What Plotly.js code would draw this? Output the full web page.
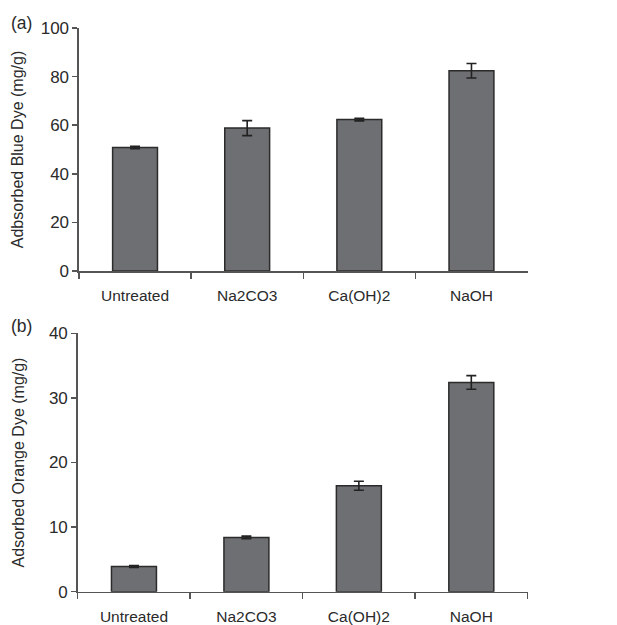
<!DOCTYPE html>
<html>
<head>
<meta charset="utf-8">
<script src="https://cdn.plot.ly/plotly-3.0.1.min.js"></script>
<style>html,body{margin:0;padding:0;background:#fff}#chart{width:617px;height:625px}</style>
</head>
<body>
<div id="chart"></div>
<script>
const categories = ["Untreated", "Na2CO3", "Ca(OH)2", "NaOH"];
const blueValues = [50.8, 58.8, 62.3, 82.4];
const blueErrors = [0.5, 3.1, 0.5, 3.0];
const orangeValues = [3.9, 8.4, 16.4, 32.4];
const orangeErrors = [0.15, 0.2, 0.7, 1.05];
const blueTicks = [0, 20, 40, 60, 80, 100];
const orangeTicks = [0, 10, 20, 30, 40];

const barStyle = {color: "#6e6f72", line: {color: "#2b2b2b", width: 1.5}};
const errStyle = {type: "data", visible: true, color: "#222", thickness: 1.6, width: 5};

const traces = [
  {type: "bar", x: categories, y: blueValues, xaxis: "x", yaxis: "y", width: 0.4,
   marker: barStyle, error_y: Object.assign({array: blueErrors}, errStyle), hoverinfo: "none"},
  {type: "bar", x: categories, y: orangeValues, xaxis: "x2", yaxis: "y2", width: 0.4,
   marker: barStyle, error_y: Object.assign({array: orangeErrors}, errStyle), hoverinfo: "none"}
];

const font = {family: "Liberation Sans, Arial, sans-serif", color: "#2a2a2a"};
const xCommon = {
  type: "category", showline: true, linecolor: "#555", linewidth: 1.5,
  ticks: "outside", tickson: "boundaries", ticklen: 6, tickwidth: 1.5, tickcolor: "#555",
  tickfont: Object.assign({size: 15.5}, font), showgrid: false, zeroline: false,
  range: [-0.5, 3.5], fixedrange: true, automargin: false
};
const yCommon = {
  showline: true, linecolor: "#555", linewidth: 1.5, ticks: "outside", ticklen: 5,
  tickwidth: 1.5, tickcolor: "#555", tickfont: Object.assign({size: 17}, font),
  showgrid: false, zeroline: false, automargin: false, fixedrange: true
};

const layout = {
  width: 617, height: 625,
  margin: {l: 0, r: 0, t: 0, b: 0},
  paper_bgcolor: "#fff", plot_bgcolor: "#fff",
  showlegend: false, bargap: 0.6,
  font: font,
  xaxis: Object.assign({}, xCommon, {domain: [0.128, 0.855], anchor: "y", ticklabelstandoff: 10}),
  yaxis: Object.assign({}, yCommon, {domain: [0.5664, 0.9552], anchor: "x", range: [0, 100],
    tickvals: blueTicks,
    title: {text: "Adbsorbed Blue Dye (mg/g)", font: Object.assign({size: 16}, font), standoff: 13}}),
  xaxis2: Object.assign({}, xCommon, {domain: [0.126, 0.855], anchor: "y2", ticklabelstandoff: 10}),
  yaxis2: Object.assign({}, yCommon, {domain: [0.0533, 0.4667], anchor: "x2", range: [0, 40],
    tickvals: orangeTicks,
    title: {text: "Adsorbed Orange Dye (mg/g)", font: Object.assign({size: 16}, font), standoff: 20}}),
  annotations: [
    {text: "(a)", xref: "paper", yref: "paper", x: 0.014, y: 1 - 23/625, xanchor: "left", yanchor: "middle",
     showarrow: false, font: Object.assign({size: 17.5}, font)},
    {text: "(b)", xref: "paper", yref: "paper", x: 0.014, y: 1 - 326/625, xanchor: "left", yanchor: "middle",
     showarrow: false, font: Object.assign({size: 17.5}, font)}
  ]
};

Plotly.newPlot("chart", traces, layout, {staticPlot: true, displayModeBar: false});
</script>
</body>
</html>
